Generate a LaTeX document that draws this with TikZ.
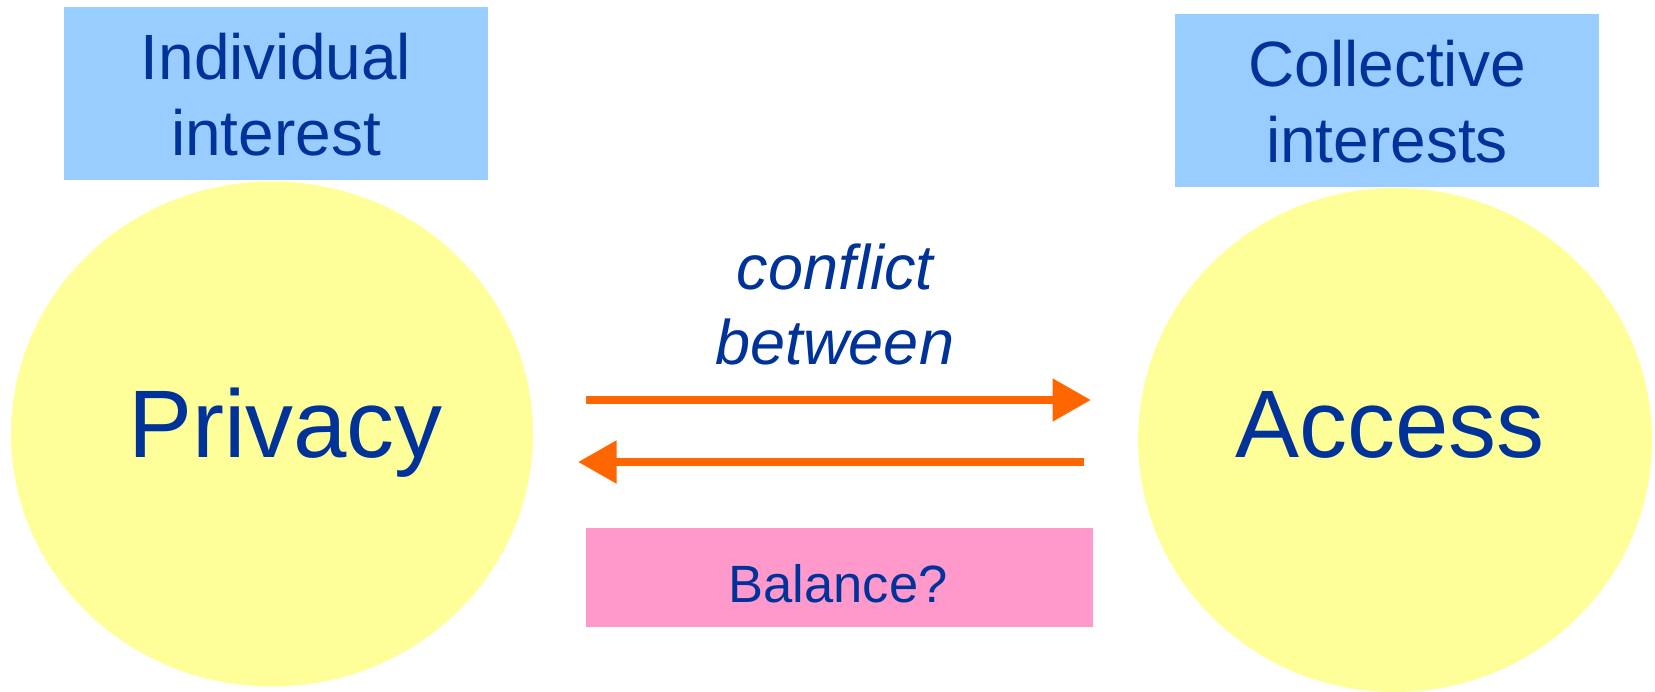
\documentclass[tikz,border=0pt]{standalone}
\usepackage{fontspec}
\setmainfont{Liberation Sans}
\usetikzlibrary{arrows.meta,shapes.geometric}

\definecolor{inktext}{HTML}{003399}
\definecolor{boxblue}{HTML}{99CCFF}
\definecolor{discyellow}{HTML}{FFFF99}
\definecolor{boxpink}{HTML}{FF99CC}
\definecolor{arroworange}{HTML}{FF6600}

\begin{document}
\begin{tikzpicture}[x=1pt,y=-1pt,
  interestbox/.style={rectangle, fill=boxblue, draw=none, inner sep=0pt,
    minimum width=424pt, minimum height=173pt},
  interesttext/.style={anchor=base, align=center, text=inktext, inner sep=0pt,
    font=\fontsize{64}{76}\selectfont},
  disc/.style={ellipse, fill=discyellow, draw=none, inner sep=0pt},
  bigword/.style={anchor=base, text=inktext, inner sep=0pt,
    font=\fontsize{96}{110}\selectfont},
  conflicttext/.style={anchor=base, align=center, text=inktext, inner sep=0pt,
    font=\fontsize{63}{75}\selectfont\itshape},
  balancebox/.style={rectangle, fill=boxpink, draw=none, inner sep=0pt,
    minimum width=507pt, minimum height=99pt},
  balancetext/.style={anchor=base, text=inktext, inner sep=0pt,
    font=\fontsize{52.5}{62}\selectfont},
  flow/.style={draw=arroworange, line width=8.4pt,
    -{Triangle[length=38.5pt,width=41pt]}}
]
\path[use as bounding box] (0,0) rectangle (1655,692);

% the two interests (base anchor sits on the last line)
\node[interestbox] (indbox) at (276,93.5) {};
\node[interesttext] (indtext) at (276,156) {Individual\\interest};
\node[interestbox] (colbox) at (1387,100.5) {};
\node[interesttext] (coltext) at (1387,163) {Collective\\interests};

% the two values
\node[disc, minimum width=522pt, minimum height=505pt] (privdisc) at (272,434) {};
\node[bigword] (privacy) at (285.5,457) {Privacy};
\node[disc, minimum width=514pt, minimum height=504pt] (accdisc) at (1395,440) {};
\node[bigword] (access) at (1390,457) {Access};

% the tension between them
\node[conflicttext] (conflict) at (835,365) {conflict\\between};

\coordinate (fwdstart) at (585.5,400);
\coordinate (fwdend) at (1091,400);
\coordinate (backstart) at (1084,462);
\coordinate (backend) at (578,462);
\draw[flow] (fwdstart) -- (fwdend);
\draw[flow] (backstart) -- (backend);

\node[balancebox] (balbox) at (839,577) {};
\node[balancetext] (balance) at (838,602) {Balance?};
\end{tikzpicture}
\end{document}
